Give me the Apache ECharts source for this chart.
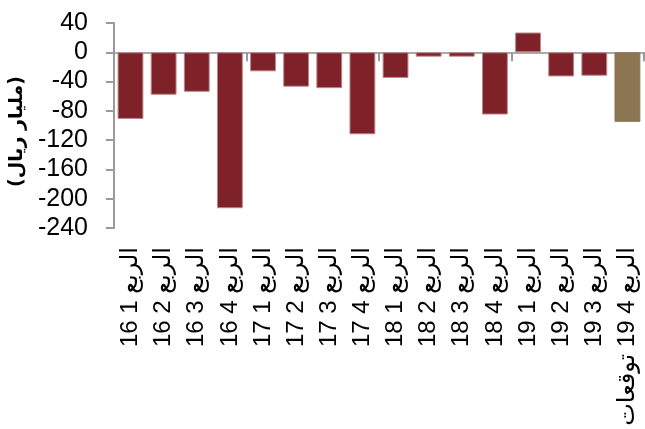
<!DOCTYPE html>
<html>
<head>
<meta charset="utf-8">
<style>
  html, body { margin: 0; padding: 0; background: #ffffff; }
  #chart { width: 645px; height: 429px; }
</style>
<script src="https://cdn.jsdelivr.net/npm/echarts@6/dist/echarts.min.js"></script>
</head>
<body>
<div id="chart"></div>
<script>
// Quarterly balance (billion riyals); the last quarter is a forecast
const quarters = [
  '16 1 الربع', '16 2 الربع', '16 3 الربع', '16 4 الربع',
  '17 1 الربع', '17 2 الربع', '17 3 الربع', '17 4 الربع',
  '18 1 الربع', '18 2 الربع', '18 3 الربع', '18 4 الربع',
  '19 1 الربع', '19 2 الربع', '19 3 الربع', 'توقعات\u200E 19 4 الربع'
];
const balance = [-91, -58, -54, -213, -26, -47, -49, -112, -35, -6, -6, -85, 27, -33, -32, -95];
const forecastIndex = 15;

const yMin = -240, yMax = 40, yStep = 40;
const axisName = '(مليار ريال)';

const actualColor = '#7E2129';
const forecastColor = '#8B7553';
const axisGray = '#9a9a9a';

const chart = echarts.init(document.getElementById('chart'), null, { renderer: 'canvas' });

chart.setOption({
  animation: false,
  grid: { left: 113, right: 1, top: 23, bottom: 201, containLabel: false },
  xAxis: [
    {
      // zero line with boundary ticks
      type: 'category',
      data: quarters,
      position: 'bottom',
      axisLine: { onZero: true, lineStyle: { color: '#aaaaaa', width: 2 } },
      axisTick: { show: true, length: 9, alignWithLabel: false, lineStyle: { color: axisGray, width: 2 } },
      axisLabel: { show: false },
      splitLine: { show: false }
    },
    {
      // category labels along the bottom of the plot
      type: 'category',
      data: quarters,
      position: 'bottom',
      axisLine: { show: false, onZero: false },
      axisTick: { show: false },
      axisLabel: {
        rotate: 90,
        margin: 19,
        color: '#000000',
        fontFamily: 'Liberation Sans, Arial, DejaVu Sans, sans-serif',
        fontSize: 24,
        interval: 0
      }
    }
  ],
  yAxis: {
    type: 'value',
    min: yMin,
    max: yMax,
    interval: yStep,
    name: axisName,
    nameLocation: 'middle',
    nameRotate: 90,
    nameGap: 81,
    nameTextStyle: {
      color: '#000000',
      fontWeight: 'bold',
      fontSize: 19,
      fontFamily: 'DejaVu Sans, sans-serif',
      padding: [0, 12, 0, 0]
    },
    axisLine: { show: true, lineStyle: { color: axisGray, width: 2 } },
    axisTick: { show: true, length: 8, lineStyle: { color: axisGray, width: 2 } },
    splitLine: { show: false },
    axisLabel: {
      margin: 26,
      color: '#000000',
      fontFamily: 'Liberation Sans, Arial, sans-serif',
      fontSize: 25
    }
  },
  series: [{
    type: 'bar',
    xAxisIndex: 0,
    data: balance.map((v, i) => ({
      value: v,
      itemStyle: {
        color: i === forecastIndex ? forecastColor : actualColor,
        borderColor: i === forecastIndex ? forecastColor : '#b9868b',
        borderWidth: 1
      }
    })),
    barCategoryGap: '22%'
  }]
});
</script>
</body>
</html>
